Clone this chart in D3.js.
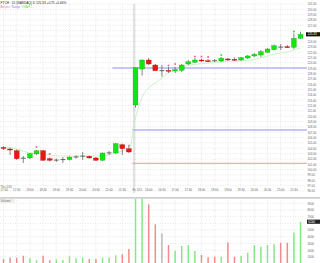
<!DOCTYPE html>
<html><head><meta charset="utf-8">
<script src="https://cdn.jsdelivr.net/npm/d3@7/dist/d3.min.js"></script>
<style>html,body{margin:0;padding:0;background:#fff;overflow:hidden}svg{display:block}</style>
</head><body>
<script>
const opens  = [104.14,103.86,103.54,102.21,102.18,102.93,103.54,102.05,101.72,101.84,101.86,102.34,102.48,102.50,102.18,101.75,103.09,103.11,104.67,103.92,
                112.10,118.83,120.52,119.58,118.52,118.59,118.46,118.59,119.77,120.09,120.52,120.39,120.41,120.33,120.71,120.65,120.52,120.89,121.27,121.45,121.96,122.45,122.97,123.01,122.90,124.58];
const highs  = [104.42,104.14,103.77,102.55,103.11,103.67,103.67,102.27,102.08,102.36,102.46,102.65,103.30,102.65,102.36,103.21,103.49,104.98,104.89,104.42,
                119.12,120.61,120.89,119.77,119.58,119.21,119.21,119.77,120.52,120.89,120.80,120.71,120.71,121.08,120.89,120.99,121.08,121.45,121.83,122.39,122.76,123.42,123.51,123.33,125.52,125.82];
const lows   = [103.67,102.74,101.80,101.24,101.99,102.74,101.62,101.52,101.43,101.24,101.71,102.08,101.80,102.08,101.62,101.62,102.74,102.93,102.74,103.11,
                111.59,117.58,119.58,118.46,117.39,118.09,118.09,118.27,119.58,119.96,120.14,120.14,120.14,120.14,120.33,120.33,120.33,120.71,121.08,121.08,121.83,122.30,122.39,122.76,122.58,124.45];
const closes = [103.96,103.67,102.05,102.14,102.98,103.54,101.75,101.75,101.78,101.88,102.36,102.38,102.52,102.18,101.75,103.11,103.13,104.85,103.92,103.30,
                119.08,120.52,119.77,118.52,118.52,118.46,118.70,119.58,120.20,120.52,120.39,120.28,120.37,120.84,120.61,120.56,120.95,121.27,121.59,122.07,122.58,123.20,122.93,122.90,124.58,125.33];
const avgLine = [104.05,104.05,103.86,103.49,103.11,103.11,102.93,102.74,102.55,102.55,102.55,102.55,102.55,102.55,102.55,102.55,102.74,103.11,103.49,103.67,
                109.66,113.59,115.28,116.21,117.15,118.09,118.65,119.12,119.49,119.68,119.86,119.96,120.05,120.14,120.24,120.29,120.33,120.43,120.61,120.89,121.27,121.64,121.83,122.02,122.39,122.76];
const volumes = [670,870,870,1160,780,480,1160,480,630,520,1070,780,870,670,670,870,870,1220,1370,2160,
                11800,10500,8840,5850,4510,2760,1870,2610,2760,1870,1270,930,1010,1010,3160,1010,1120,1610,2760,2510,2760,2870,3100,3100,4600,6240];
const markerIdx   = [5,7,19,25,26,29,30,31,33,44];
const markerPrice = [104.24,102.93,104.52,119.49,119.77,121.17,121.17,121.08,121.45,125.85];
const markerKind  = ['up','up','mid','up','up','up','up','up','dn','dn'];
const levelPrice = [119.02,107.42,101.19];
const levelFrom  = [17,20,20];
const levelKind  = ['range','range','prev'];
const priceTicks = [96,97,98,99,100,101,102,103,104,105,106,107,108,109,110,111,112,113,114,115,116,117,118,119,120,121,122,123,124,125,126,127,128,129,130,131];
const volTicks = [1000,2000,3000,4000,5000,6000,7000,8000,9000];
const timeIdx    = [0,2,4,6,8,10,12,14,16,18,20,22,24,26,28,30,32,34,36,38,40,42,44];
const timeLabels = ['17:00','17:30','18:00','18:30','19:00','19:30','20:00','20:30','21:00','21:30','Fri 2/11','16:00','16:30','17:00','17:30','18:00','18:30','19:00','19:30','20:00','20:30','21:00','21:30'];
const sessionStart = 20;
const firstDate = 'Thu 2/10';
const title = 'FTCH \u00b7 15 (NASDAQ) D 125.33 +0.75 +0.60%';
const legendNames = ['Bal pvs','Range','VWAP 1'];

const W = 320, H = 263, N = opens.length;
const svg = d3.select('body').append('svg').attr('width', W).attr('height', H)
  .style('font-family', 'Liberation Sans, Arial, sans-serif');

const x = d3.scaleBand().domain(d3.range(N)).range([0.2, 303.8]);
const bw = x.bandwidth();
const cx = i => x(i) + bw / 2;
const y = d3.scaleLinear().domain([96, 131]).range([191, 4]);
const yv = d3.scaleLinear().domain([0, 9630]).range([263.5, 199]);

const GREEN = '#11e611', RED = '#ee1414', DOJI = '#555';
const VG = '#84e884', VR = '#f28c8c', VGR = '#bbbbbb';
const last = closes[N - 1];
const lv = volumes[N - 1];

// grid
const grid = svg.append('g').attr('stroke', '#d9d9d9').attr('stroke-width', 0.6).attr('stroke-dasharray', '1,1.5');
grid.selectAll('.hp').data(priceTicks).join('line')
  .attr('x1', 0).attr('x2', 305).attr('y1', d => y(d)).attr('y2', d => y(d));
grid.selectAll('.vp').data(timeIdx).join('line')
  .attr('x1', d => cx(d)).attr('x2', d => cx(d)).attr('y1', 4).attr('y2', 186);
grid.selectAll('.hv').data(volTicks).join('line')
  .attr('x1', 0).attr('x2', 305).attr('y1', d => yv(d)).attr('y2', d => yv(d));
grid.selectAll('.vv').data(timeIdx).join('line')
  .attr('x1', d => cx(d)).attr('x2', d => cx(d)).attr('y1', 200).attr('y2', 263);

// session separator
svg.append('line').attr('x1', x(sessionStart) + 1.8).attr('x2', x(sessionStart) + 1.8)
  .attr('y1', 4).attr('y2', 193).attr('stroke', '#b5b5b5').attr('stroke-width', 0.8);

// level lines
svg.append('g').selectAll('line').data(levelPrice).join('line')
  .attr('x1', (d, i) => x(levelFrom[i])).attr('x2', 307)
  .attr('y1', d => y(d)).attr('y2', d => y(d))
  .attr('stroke', (d, i) => levelKind[i] === 'range' ? '#8f8ff5' : '#f29a92').attr('stroke-width', 1);

// avg line
svg.append('path').datum(avgLine)
  .attr('d', d3.line().x((d, i) => cx(i)).y(d => y(d)).curve(d3.curveMonotoneX))
  .attr('fill', 'none').attr('stroke', '#b9f2b9').attr('stroke-width', 0.8);

// candles
const idx = d3.range(N);
const isDoji = i => Math.abs(closes[i] - opens[i]) < 0.08;
const cg = svg.append('g');
cg.selectAll('.wick').data(idx).join('line')
  .attr('x1', cx).attr('x2', cx).attr('y1', i => y(highs[i])).attr('y2', i => y(lows[i]))
  .attr('stroke', '#555').attr('stroke-width', 0.7);
const bodyW = bw * 0.74;
cg.selectAll('.body').data(idx.filter(i => !isDoji(i))).join('rect')
  .attr('x', i => cx(i) - bodyW / 2).attr('width', bodyW)
  .attr('y', i => y(Math.max(opens[i], closes[i])))
  .attr('height', i => Math.max(1, Math.abs(y(opens[i]) - y(closes[i]))))
  .attr('fill', i => closes[i] > opens[i] ? GREEN : RED)
  .attr('stroke', i => closes[i] > opens[i] ? '#0aa60a' : '#b00')
  .attr('stroke-width', 0.3);
cg.selectAll('.doji').data(idx.filter(isDoji)).join('line')
  .attr('x1', i => cx(i) - bodyW / 2).attr('x2', i => cx(i) + bodyW / 2)
  .attr('y1', i => y(closes[i])).attr('y2', i => y(closes[i]))
  .attr('stroke', DOJI).attr('stroke-width', 0.9);

// markers
svg.append('g').selectAll('rect').data(markerIdx).join('rect')
  .attr('x', d => cx(d) - 0.8).attr('y', (d, k) => y(markerPrice[k]) - 0.8)
  .attr('width', 1.6).attr('height', 1.6)
  .attr('fill', (d, k) => markerKind[k] === 'up' ? '#f0508a' : markerKind[k] === 'dn' ? '#33cc33' : '#999');

// price axis (label hidden behind the last-price box is skipped)
const shownPrice = priceTicks.filter(t => Math.abs(y(t) - y(last)) > 4.2);
const pa = svg.append('g').attr('transform', 'translate(306,0)')
  .call(d3.axisRight(y).tickValues(shownPrice).tickSize(0).tickPadding(1.5).tickFormat(d3.format('.2f')));
pa.select('.domain').remove();
pa.selectAll('text').attr('font-size', 2.9).attr('fill', '#666').attr('font-family', 'Liberation Sans, Arial, sans-serif');

svg.append('rect').attr('x', 306).attr('y', y(last) - 2.1).attr('width', 14).attr('height', 4.2).attr('fill', '#151515');
svg.append('text').attr('x', 307.5).attr('y', y(last) + 1.1).attr('font-size', 3).attr('fill', '#fff').text(d3.format('.2f')(last));

// time axis
const ta = svg.append('g').attr('transform', 'translate(0,188.6)')
  .call(d3.axisBottom(x).tickValues(timeIdx).tickSize(0).tickPadding(0)
    .tickFormat(d => timeLabels[timeIdx.indexOf(d)]));
ta.select('.domain').remove();
ta.selectAll('text').attr('font-size', 2.9).attr('fill', '#666').attr('font-family', 'Liberation Sans, Arial, sans-serif');
ta.selectAll('.tick').filter(d => d === 0 || d === sessionStart).select('text')
  .attr('text-anchor', 'start').attr('x', d => -bw / 2 + 0.3);
svg.append('text').attr('x', 0.5).attr('y', 188).attr('font-size', 2.9).attr('fill', '#666').text(firstDate);

// panel separator
svg.append('line').attr('x1', 0).attr('x2', 320).attr('y1', 197.8).attr('y2', 197.8).attr('stroke', '#cfcfcf').attr('stroke-width', 1.8);

// volume
svg.append('clipPath').attr('id', 'vc').append('rect').attr('x', 0).attr('y', 199).attr('width', 306).attr('height', 64);
svg.append('g').attr('clip-path', 'url(#vc)').selectAll('rect').data(idx).join('rect')
  .attr('x', i => cx(i) - 0.75).attr('width', 1.5)
  .attr('y', i => yv(volumes[i])).attr('height', i => yv(0) - yv(volumes[i]))
  .attr('fill', i => closes[i] > opens[i] ? VG : closes[i] < opens[i] ? VR : VGR);

const shownVol = volTicks.filter(t => Math.abs(yv(t) - yv(lv)) > 4.2);
const va = svg.append('g').attr('transform', 'translate(306,0)')
  .call(d3.axisRight(yv).tickValues(shownVol).tickSize(0).tickPadding(1.5).tickFormat(d3.format('d')));
va.select('.domain').remove();
va.selectAll('text').attr('font-size', 2.9).attr('fill', '#666').attr('font-family', 'Liberation Sans, Arial, sans-serif');
svg.append('rect').attr('x', 307).attr('y', yv(lv) - 2.1).attr('width', 13).attr('height', 4.2).attr('fill', '#222');
svg.append('text').attr('x', 308.3).attr('y', yv(lv) + 1.1).attr('font-size', 3).attr('fill', '#fff').text(d3.format('d')(lv));

svg.append('rect').attr('x', 0).attr('y', 199.2).attr('width', 14.5).attr('height', 3.6).attr('fill', '#ececec');
svg.append('text').attr('x', 0.8).attr('y', 202.1).attr('font-size', 2.9).attr('fill', '#777').text('Volume');

// title + legend
svg.append('text').attr('x', 0.5).attr('y', 3.9).attr('font-size', 3.2).attr('fill', '#222').text(title);
const legColors = ['#f07a7a', '#7a7af5', '#66d866'];
let lx = 0.5;
legendNames.forEach((n, k) => {
  const t = svg.append('text').attr('x', lx).attr('y', 7.6).attr('font-size', 2.9).attr('fill', legColors[k]).text(n);
  lx += t.node().getComputedTextLength() + 1.5;
});
</script>
</body></html>
